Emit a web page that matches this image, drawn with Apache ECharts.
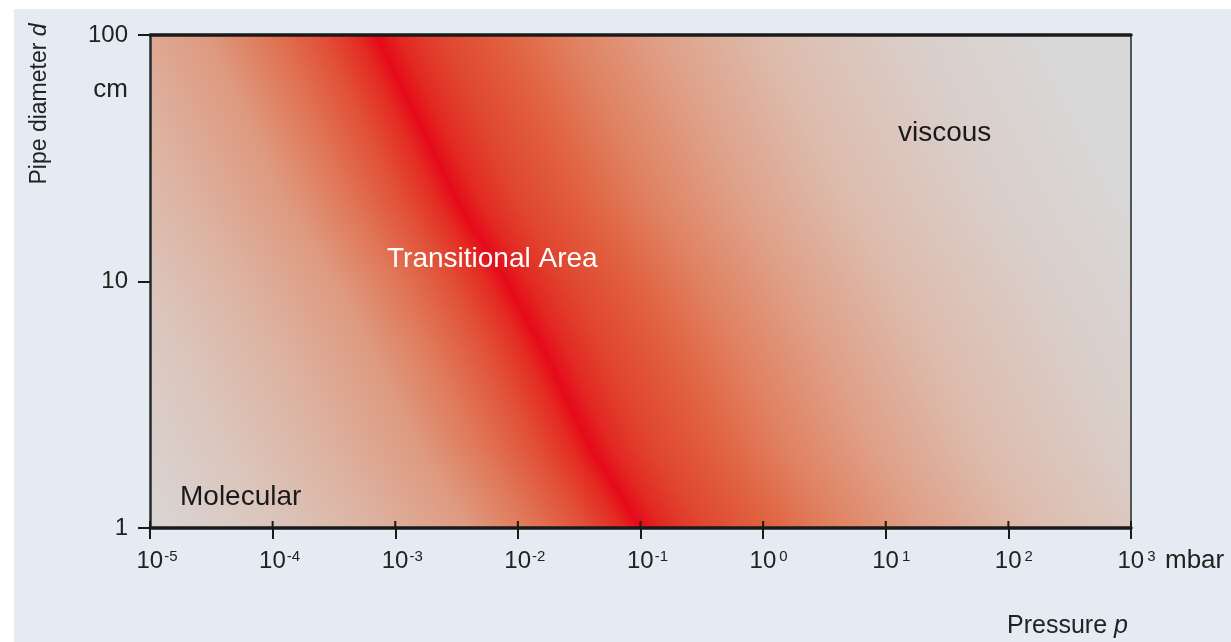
<!DOCTYPE html>
<html>
<head>
<meta charset="utf-8">
<script src="https://cdn.jsdelivr.net/npm/echarts@6/dist/echarts.min.js"></script>
<style>
html,body{margin:0;padding:0;background:#ffffff;}
#chart{width:1231px;height:642px;}
</style>
</head>
<body>
<div id="chart"></div>
<script>
// ---- data ----
// centre line of the transitional area (pressure in mbar, pipe diameter in cm)
const ridgePressure = [7.0e-4, 3.2e-3, 8.0e-3, 1.6e-2, 4.0e-2, 1.0e-1];
const ridgeDiameter = [100, 21, 10, 5.3, 2.07, 1];
const xTickExponents = [-5, -4, -3, -2, -1, 0, 1, 2, 3];
const yTickLabels = ['1', '10', '100'];
const regionLabels = ['Molecular', 'Transitional Area', 'viscous'];

const FONT = '"Liberation Sans", Arial, sans-serif';
const TXT = '#222222';

// colour profile across the band: [offset in decades from centre line, colour]
const profile = [
  [-4.0, '#d9d6d5'], [-3.0, '#dbc6bd'], [-2.2, '#ddb3a2'], [-1.4, '#de9a80'],
  [-0.9, '#e07858'], [-0.45, '#e15038'], [-0.15, '#e42a22'], [0, '#e60a1a'],
  [0.2, '#e22a22'], [0.5, '#e04530'], [1.0, '#e0603e'], [1.6, '#e08262'],
  [2.3, '#dfa088'], [3.2, '#ddbcad'], [4.3, '#dacdc8'], [5.5, '#d8d8d8'], [6.0, '#d8d8d8']
];
const P_MIN = -4, P_MAX = 6;
const stops = profile.map(p => ({offset: (p[0] - P_MIN) / (P_MAX - P_MIN), color: p[1]}));

const segData = [];
for (let i = 0; i < ridgePressure.length - 1; i++) {
  segData.push([ridgePressure[i], ridgeDiameter[i], ridgePressure[i + 1], ridgeDiameter[i + 1]]);
}
const tickData = xTickExponents.map(e => [Math.pow(10, e), 1]);

function renderBand(params, api) {
  const cs = params.coordSys;
  const a = api.coord([api.value(0), api.value(1)]);
  const b = api.coord([api.value(2), api.value(3)]);
  const dec = api.coord([10, 1])[0] - api.coord([1, 1])[0];
  const children = [];
  const top = cs.y, bot = cs.y + cs.height;
  const y0 = Math.max(top, Math.floor(Math.min(a[1], b[1])));
  const y1 = Math.min(bot, Math.ceil(Math.max(a[1], b[1])));
  const step = 2;
  for (let y = y0; y < y1; y += step) {
    const yc = y + step / 2;
    const t = (yc - a[1]) / (b[1] - a[1]);
    const rx = a[0] + t * (b[0] - a[0]);
    children.push({
      type: 'rect',
      shape: {x: cs.x, y: y, width: cs.width, height: Math.min(step + 1, bot - y)},
      style: {
        fill: {
          type: 'linear', global: true,
          x: rx + P_MIN * dec, y: 0, x2: rx + P_MAX * dec, y2: 0,
          colorStops: stops
        }
      },
      silent: true
    });
  }
  return {type: 'group', children: children};
}

// upper (inside) half of the x-axis tick marks
function renderInnerTick(params, api) {
  const p = api.coord([api.value(0), api.value(1)]);
  return {
    type: 'line',
    shape: {x1: p[0], y1: p[1] - 7, x2: p[0], y2: p[1]},
    style: {stroke: '#1a1a1a', lineWidth: 2},
    silent: true
  };
}

const chart = echarts.init(document.getElementById('chart'), null, {renderer: 'canvas'});

const xLabelFmt = v => {
  const e = Math.round(Math.log10(v));
  return e < 0
    ? '{spn|}{b|10}{s|' + e + '}'
    : '{spp|}{b|10}{sp|' + e + '}';
};

const option = {
  animation: false,
  backgroundColor: '#ffffff',
  graphic: [
    {type: 'rect', z: -100, silent: true, shape: {x: 14, y: 9, width: 1217, height: 633}, style: {fill: '#e5ebf2'}},
    {type: 'text', z: 100, x: 180, y: 497, style: {text: regionLabels[0], font: '28px ' + FONT, fill: '#1a1a1a', verticalAlign: 'middle'}},
    {type: 'text', z: 100, x: 387, y: 259, style: {text: regionLabels[1], font: '28px ' + FONT, fill: '#ffffff', verticalAlign: 'middle'}},
    {type: 'text', z: 100, x: 898, y: 133, style: {text: regionLabels[2], font: '28px ' + FONT, fill: '#1a1a1a', verticalAlign: 'middle'}},
    {type: 'text', z: 100, x: 128, y: 90, style: {text: 'cm', font: '26px ' + FONT, fill: TXT, align: 'right', verticalAlign: 'middle'}},
    {type: 'text', z: 100, x: 1165, y: 561, style: {text: 'mbar', font: '26px ' + FONT, fill: TXT, verticalAlign: 'middle'}},
    {type: 'text', z: 100, x: 1007, y: 626, style: {
      text: '{n|Pressure }{i|p}', verticalAlign: 'middle',
      rich: {n: {font: '25px ' + FONT, fill: TXT}, i: {font: 'italic 25px ' + FONT, fill: TXT}}
    }},
    {type: 'text', z: 100, x: 40, y: 104, rotation: Math.PI / 2, style: {
      text: '{n|Pipe diameter }{i|d}', align: 'center', verticalAlign: 'middle',
      rich: {n: {font: '23px ' + FONT, fill: TXT}, i: {font: 'italic 23px ' + FONT, fill: TXT}}
    }}
  ],
  grid: {left: 150, right: 100, top: 35, bottom: 114, containLabel: false},
  xAxis: [
    {
      type: 'log', logBase: 10, min: 1e-5, max: 1e3, splitNumber: 8,
      position: 'bottom', z: 10,
      axisLine: {show: true, lineStyle: {color: '#1a1a1a', width: 3.5}},
      axisTick: {show: true, length: 11, lineStyle: {color: '#1a1a1a', width: 2}},
      splitLine: {show: false},
      minorTick: {show: false},
      axisLabel: {
        margin: 21, formatter: xLabelFmt, fontFamily: FONT,
        rich: {
          spn: {width: 14, fontSize: 24, fontFamily: FONT},
          spp: {width: 11, fontSize: 24, fontFamily: FONT},
          b: {fontSize: 24, fontFamily: FONT, color: TXT},
          s: {fontSize: 15, fontFamily: FONT, color: TXT, padding: [0, 0, 10, 1]},
          sp: {fontSize: 15, fontFamily: FONT, color: TXT, padding: [0, 0, 10, 3]}
        }
      }
    },
    {
      type: 'log', logBase: 10, min: 1e-5, max: 1e3, position: 'top', z: 10,
      axisLine: {show: true, lineStyle: {color: '#1a1a1a', width: 3.5}},
      axisTick: {show: false}, axisLabel: {show: false}, splitLine: {show: false}
    }
  ],
  yAxis: [
    {
      type: 'log', logBase: 10, min: 1, max: 100, splitNumber: 2,
      position: 'left', z: 10,
      axisLine: {show: true, lineStyle: {color: '#2a2a2a', width: 2.5}},
      axisTick: {show: true, length: 12, lineStyle: {color: '#1a1a1a', width: 2}},
      splitLine: {show: false},
      axisLabel: {margin: 22, fontSize: 24, fontFamily: FONT, color: TXT,
        formatter: v => yTickLabels[Math.round(Math.log10(v))]}
    },
    {
      type: 'log', logBase: 10, min: 1, max: 100, position: 'right', z: 10,
      axisLine: {show: true, lineStyle: {color: '#555555', width: 2}},
      axisTick: {show: false}, axisLabel: {show: false}, splitLine: {show: false}
    }
  ],
  series: [
    {
      type: 'custom', xAxisIndex: 0, yAxisIndex: 0, z: 1,
      renderItem: renderBand,
      clip: true,
      silent: true,
      data: segData
    },
    {
      type: 'custom', xAxisIndex: 0, yAxisIndex: 0, z: 20,
      renderItem: renderInnerTick,
      clip: false,
      silent: true,
      data: tickData
    }
  ]
};
chart.setOption(option);
</script>
</body>
</html>
